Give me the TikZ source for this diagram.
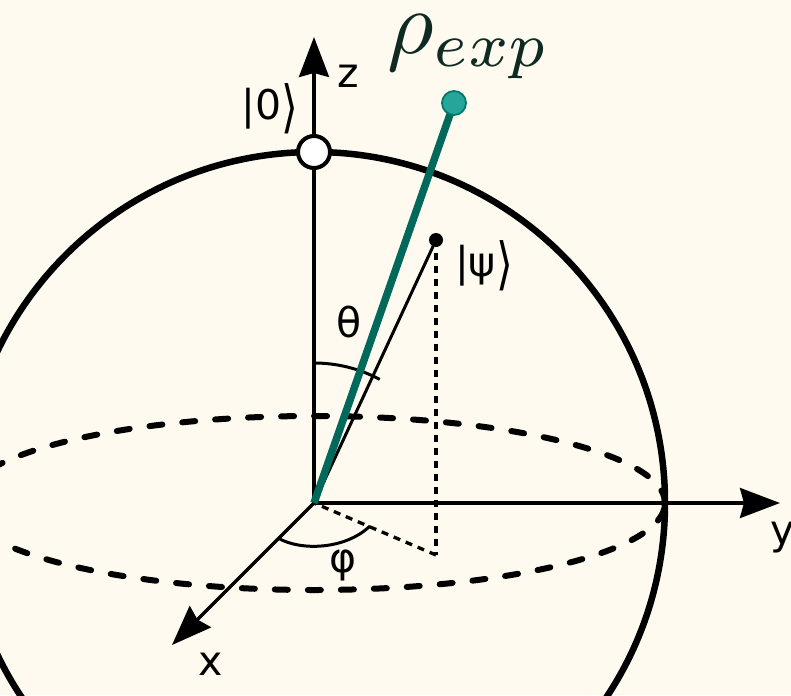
\documentclass[tikz,border=0pt]{standalone}
\usepackage{fontspec}
\usepackage{graphicx}
\newfontfamily\lab{DejaVu Sans}
\newcommand\myrang{\raisebox{-0.17em}{\scalebox{1.05}[1.38]{⟩}}}
\usetikzlibrary{arrows.meta}
\definecolor{bg}{RGB}{254,250,239}
\definecolor{tealdark}{HTML}{00695C}
\definecolor{tealdot}{HTML}{26A69A}
\definecolor{tealedge}{HTML}{00796B}
\definecolor{rhotext}{HTML}{0E2A23}
\begin{document}
\begin{tikzpicture}[x=1pt,y=-1pt,
  axis/.style={line width=3.3pt,-{Stealth[length=40pt,width=30pt,inset=4pt]}},
  sphere/.style={line width=6.5pt},
  equator/.style={line width=6pt,line cap=round,dash pattern=on 13pt off 20pt},
  proj/.style={line width=3.3pt,dash pattern=on 7pt off 6pt},
  anglearc/.style={line width=3pt},
  lbl/.style={font=\lab\fontsize{41}{48}\selectfont,inner sep=0pt}]
\useasboundingbox (0,0) rectangle (791,695);
\fill[bg] (0,0) rectangle (791,695);
\begin{scope}
\clip (0,0) rectangle (791,695);
\coordinate (O) at (314,503);
\coordinate (ztip) at (314,37);
\coordinate (ytip) at (780,503);
\coordinate (xtip) at (172,645);
\coordinate (psi) at (436,240);
\coordinate (foot) at (436,555);
\coordinate (rho) at (454,103);
\coordinate (thA) at (314,363);
\coordinate (phA) at (278,538);
\coordinate (phB) at (370,526);
% equator
\draw[equator] (O) ellipse[x radius=351pt,y radius=87pt];
% sphere
\draw[sphere] (O) circle[radius=351pt];
% axes
\draw[axis] (O) -- (ztip);
\draw[axis] (O) -- (ytip);
\draw[axis] (O) -- (xtip);
% projections
\draw[proj] (psi) -- (foot);
\draw[proj] (foot) -- (O);
% state vector
\draw[line width=3pt] (O) -- (psi);
% theta arc
\draw[anglearc] (thA) arc[start angle=90,end angle=62,radius=140pt];
% phi arc
\draw[anglearc] (phA) .. controls (300,551) and (345,550) .. (phB);
% experimental vector
\draw[tealdark,line width=7.5pt] (O) -- (rho);
\node[circle,fill=tealdot,draw=tealedge,line width=1.8pt,minimum size=24pt,inner sep=0pt] (rhodot) at (rho) {};
\node[circle,fill=black,minimum size=14pt,inner sep=0pt] (psidot) at (psi) {};
\node[circle,fill=white,draw=black,line width=4pt,minimum size=32pt,inner sep=0pt] (zero) at (314,152) {};
\end{scope}
% labels
\node[lbl] (zl) at (348,76) {z};
\node[lbl] (kz) at (270,109) {|0\myrang};
\node[lbl] (kpsi) at (484,266) {|ψ\myrang};
\node[lbl] (th) at (349,322) {θ};
\node[lbl] (ph) at (343,565) {φ};
\node[lbl] (xl) at (211,664) {x};
\node[lbl,anchor=west] (yl) at (770,538) {y};
\node[text=rhotext,scale=9,inner sep=0pt] (rl) at (469,47) {$\rho_{exp}$};
\end{tikzpicture}
\end{document}
